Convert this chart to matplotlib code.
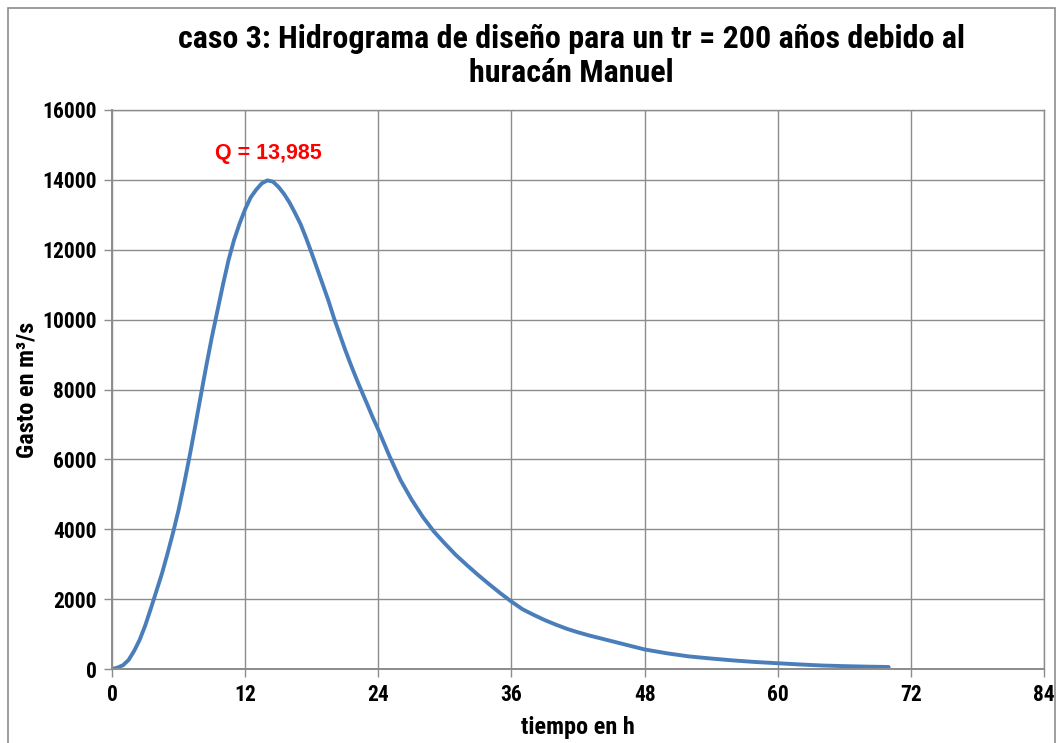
import matplotlib
matplotlib.use("Agg")
import matplotlib.pyplot as plt
from matplotlib.patches import Rectangle
from matplotlib import font_manager as fm

# Data
tiempo_h = [0, 0.5, 1, 1.5, 2, 2.5, 3, 3.5, 4, 4.5, 5, 5.5, 6, 6.5, 7, 7.5, 8,
            8.5, 9, 9.5, 10, 10.5, 11, 11.5, 12, 12.5, 13, 13.5, 14, 14.5, 15,
            15.5, 16, 16.5, 17, 17.5, 18, 18.5, 19, 19.5, 20, 20.5, 21, 21.5,
            22, 22.5, 23, 23.5, 24, 25, 26, 27, 28, 29, 30, 31, 32, 33, 34, 35,
            36, 37, 38, 39, 40, 41, 42, 43, 44, 45, 46, 47, 48, 50, 52, 54, 56,
            58, 60, 62, 64, 66, 68, 70]
gasto = [0, 40, 110, 260, 520, 840, 1250, 1730, 2230, 2730, 3300, 3900, 4550,
         5300, 6100, 6950, 7820, 8680, 9500, 10250, 11000, 11700, 12280, 12750,
         13160, 13500, 13720, 13900, 13985, 13950, 13800, 13600, 13350, 13050,
         12730, 12330, 11900, 11450, 11000, 10550, 10050, 9600, 9150, 8730,
         8330, 7950, 7580, 7200, 6850, 6100, 5410, 4850, 4360, 3940, 3590,
         3260, 2970, 2690, 2425, 2170, 1930, 1710, 1550, 1400, 1270, 1150,
         1050, 960, 880, 800, 720, 640, 560, 450, 360, 300, 245, 200, 165, 130,
         100, 82, 68, 57]
x_ticks = [0, 12, 24, 36, 48, 60, 72, 84]
y_ticks = [0, 2000, 4000, 6000, 8000, 10000, 12000, 14000, 16000]
titulo = "caso 3: Hidrograma de diseño para un tr = 200 años debido al\nhuracán Manuel"
etiqueta_pico = "Q = 13,985"
pico_t, pico_q = 14.1, 14760

names = {f.name for f in fm.fontManager.ttflist}
narrow = [n for n in ['Liberation Sans Narrow', 'Arial Narrow', 'Roboto Condensed',
                      'Open Sans Condensed', 'DejaVu Sans Condensed'] if n in names]
FONT = narrow + ['DejaVu Sans']
STRETCH = 'condensed'

fig = plt.figure(figsize=(10.62, 7.43), dpi=100)
fig.patch.set_facecolor('white')
fig.patches.append(Rectangle((8/1062, -0.05), (1055-8)/1062, 1.05 - 8/743,
                             transform=fig.transFigure, fill=False,
                             edgecolor='#8c8c8c', linewidth=1.2))

ax = fig.add_axes([112/1062, 1 - 669/743, (1044-112)/1062, (669-110)/743])
ax.plot(tiempo_h, gasto, color='#4a7ebb', linewidth=2.8, solid_capstyle='round',
        solid_joinstyle='round')

ax.set_xlim(0, 84)
ax.set_ylim(0, 16000)
ax.set_xticks(x_ticks)
ax.set_yticks(y_ticks)
ax.grid(True, color='#8c8c8c', linewidth=1.0)
ax.set_axisbelow(True)
for s in ax.spines.values():
    s.set_color('#8c8c8c')
    s.set_linewidth(1.0)
ax.spines['left'].set_linewidth(1.4)
ax.spines['bottom'].set_linewidth(1.4)
ax.tick_params(axis='both', direction='out', length=6, width=1.0, color='#8c8c8c',
               labelsize=15.5, pad=5)
for lab in ax.get_xticklabels() + ax.get_yticklabels():
    lab.set_family(FONT)
    lab.set_fontweight('bold')
    lab.set_fontstretch(STRETCH)

ax.set_xlabel('tiempo en h', family=FONT, fontweight='bold', fontsize=17.5,
              fontstretch=STRETCH, labelpad=7)
ax.set_ylabel('Gasto en m³/s', family=FONT, fontweight='bold', fontsize=17.5,
              fontstretch=STRETCH, labelpad=3)

fig.text(571/1062, 1 - 56/743, titulo, ha='center', va='center', family=FONT,
         fontweight='bold', fontsize=23, fontstretch=STRETCH, linespacing=1.15)

ax.text(pico_t, pico_q, etiqueta_pico, ha='center', va='center', color='#ff0000',
        family=['Liberation Sans', 'DejaVu Sans'], fontweight='bold', fontsize=15.5)

fig.savefig('out.png', dpi=100, facecolor='white')
